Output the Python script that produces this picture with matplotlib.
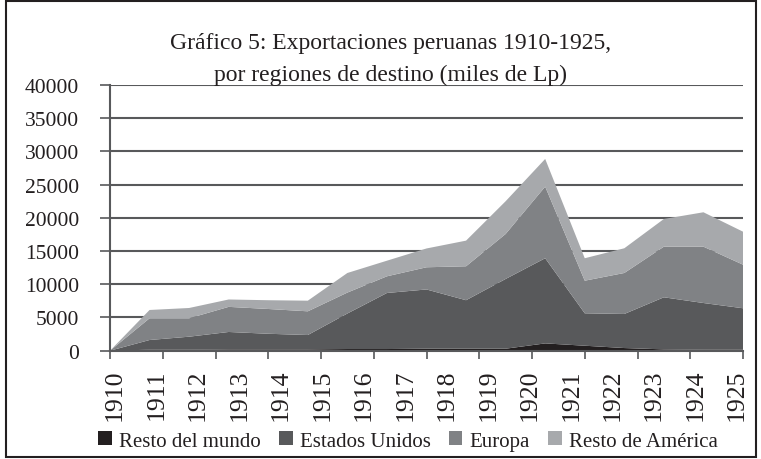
import matplotlib
matplotlib.use('Agg')
import matplotlib.pyplot as plt
import numpy as np
from matplotlib.patches import Rectangle

plt.rcParams['font.family'] = ['Liberation Serif', 'DejaVu Serif']

# year labels on the axis (16) and the 17 evenly spaced data points
years = ['1910', '1911', '1912', '1913', '1914', '1915', '1916', '1917',
         '1918', '1919', '1920', '1921', '1922', '1923', '1924', '1925']

resto_mundo = [0, 150, 150, 200, 200, 200, 250, 250, 300, 300, 300,
               1100, 750, 400, 200, 150, 150]
estados_unidos = [0, 1460, 1960, 2620, 2350, 2160, 5350, 8440, 8920, 7300,
                  10500, 12820, 4880, 5130, 7840, 7030, 6240]
europa = [0, 3270, 2770, 3780, 3730, 3570, 3150, 2510, 3340, 5110, 6770,
          10780, 4910, 6170, 7620, 8480, 6560]
resto_america = [0, 1250, 1550, 1110, 1320, 1600, 2950, 2350, 2830, 3860,
                 4930, 4170, 3380, 3720, 4170, 5180, 4970]

series_names = ['Resto del mundo', 'Estados Unidos', 'Europa',
                'Resto de América']
colors = ['#231f20', '#58595b', '#808285', '#a7a9ac']

W, H = 761, 460
fig = plt.figure(figsize=(W / 100, H / 100), dpi=100)
ax = fig.add_axes([110 / W, 1 - 351.7 / H, 633 / W, 265.7 / H])

x = np.arange(len(resto_mundo))
ax.stackplot(x, resto_mundo, estados_unidos, europa, resto_america,
             colors=colors, labels=series_names, linewidth=0)

ax.set_xlim(0, len(x) - 1)
ax.set_ylim(0, 40000)

# y axis
ax.set_yticks(np.arange(0, 40001, 5000))
ax.yaxis.grid(True, color='#58595b', linewidth=1.5)
ax.set_axisbelow(True)
ax.tick_params(axis='y', direction='out', length=7.2, width=1.2,
               color='#58595b', pad=15, labelsize=15.5, labelcolor='#231f20')

# x axis: tick marks and year labels sit on separate positions
ax.set_xticks(np.linspace(0, len(x) - 1, 13))
ax.set_xticklabels([])
ax.set_xticks(np.linspace(0.13, 15.85, len(years)), minor=True)
ax.set_xticklabels(years, minor=True, rotation=90)
ax.tick_params(axis='x', which='major', direction='out', length=6,
               width=1.2, color='#58595b')
ax.tick_params(axis='x', which='minor', length=0, pad=13, labelsize=18.5,
               labelcolor='#231f20')

for s in ['top', 'right']:
    ax.spines[s].set_visible(False)
for s in ['left', 'bottom']:
    ax.spines[s].set_color('#58595b')
    ax.spines[s].set_linewidth(1.5)

fig.text(391 / W, 1 - 43 / H, 'Gráfico 5: Exportaciones peruanas 1910-1925,',
         ha='center', va='center', fontsize=17, color='#231f20')
fig.text(391 / W, 1 - 75 / H, 'por regiones de destino (miles de Lp)',
         ha='center', va='center', fontsize=17, color='#231f20')

fig.legend(loc='center', bbox_to_anchor=(408 / W, 1 - 442 / H), ncol=4,
           frameon=False, fontsize=15, handlelength=0.67, handleheight=0.67,
           handletextpad=0.34, columnspacing=0.85, labelcolor='#231f20')

fig.patches.append(Rectangle((6 / W, 2 / H), 750 / W, 456 / H,
                             transform=fig.transFigure, fill=False,
                             edgecolor='#231f20', linewidth=1.5))

fig.savefig('out.png', dpi=100)
